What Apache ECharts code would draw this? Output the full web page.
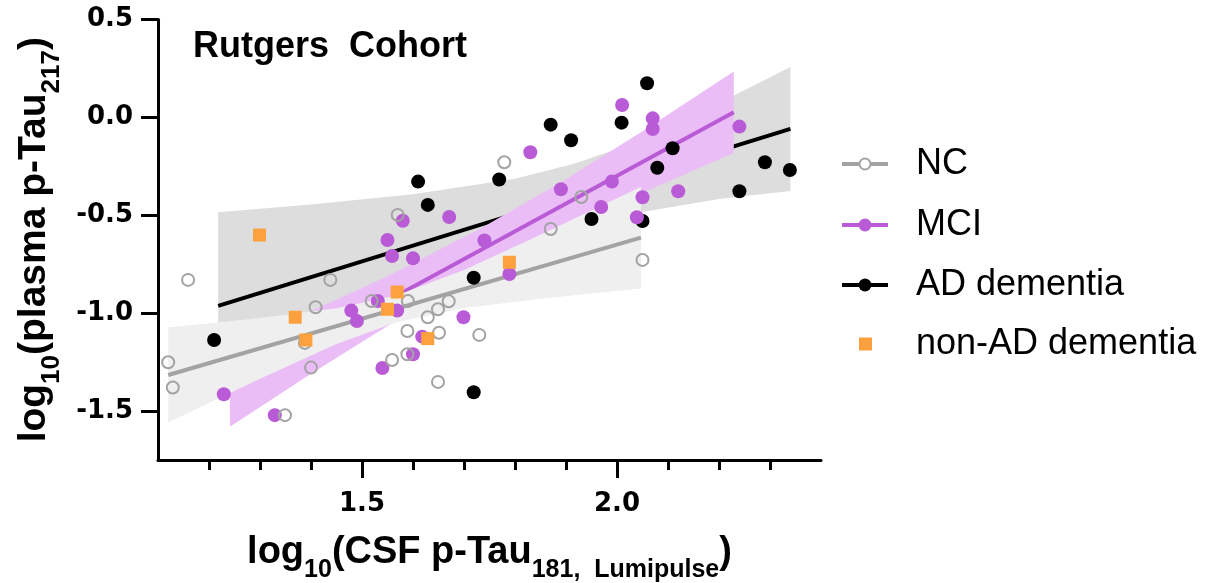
<!DOCTYPE html>
<html>
<head>
<meta charset="utf-8">
<script src="https://cdn.jsdelivr.net/npm/echarts@6/dist/echarts.min.js"></script>
<style>
  html, body { margin: 0; padding: 0; background: #fff; }
  #chart { width: 1216px; height: 583px; }
</style>
</head>
<body>
<div id="chart"></div>
<script>
// ---- Scatter data: log10(CSF p-Tau181) vs log10(plasma p-Tau217) ----
const ncX = [1.120, 1.129, 1.159, 1.349, 1.388, 1.400, 1.409, 1.438, 1.519, 1.570, 1.590, 1.589,
             1.559, 1.589, 1.629, 1.649, 1.670, 1.651, 1.649, 1.730, 1.779, 1.930, 1.870, 2.050];
const ncY = [-1.251, -1.380, -0.830, -1.521, -1.152, -1.278, -0.970, -0.830, -0.938, -0.498, -0.938, -1.091,
             -1.239, -1.210, -1.021, -0.980, -0.939, -1.100, -1.351, -1.111, -0.229, -0.407, -0.570, -0.728];

const mciX = [1.229, 1.329, 1.479, 1.490, 1.531, 1.540, 1.550, 1.559, 1.569, 1.580, 1.600, 1.600, 1.618, 1.671,
              1.699, 1.740, 1.789, 1.830, 1.890, 1.969, 1.990, 2.010, 2.039, 2.050, 2.070, 2.070, 2.120, 2.240];
const mciY = [-1.414, -1.521, -0.987, -1.040, -0.938, -1.280, -0.626, -0.708, -0.987, -0.528, -0.720, -1.210, -1.120, -0.509,
              -1.021, -0.629, -0.800, -0.178, -0.367, -0.458, -0.328, 0.063, -0.510, -0.408, -0.005, -0.059, -0.377, -0.047];

const adX = [1.210, 1.610, 1.629, 1.719, 1.719, 1.769, 1.870, 1.910, 1.950, 2.009, 2.050, 2.059, 2.079, 2.109, 2.240, 2.290, 2.339];
const adY = [-1.137, -0.328, -0.447, -0.819, -1.404, -0.317, -0.037, -0.117, -0.519, -0.027, -0.529, 0.174, -0.257, -0.158, -0.377, -0.229, -0.269];

const nonAdX = [1.299, 1.369, 1.390, 1.550, 1.569, 1.629, 1.789];
const nonAdY = [-0.601, -1.021, -1.137, -0.980, -0.892, -1.130, -0.740];

// ---- Linear fits (end points) ----
const ncFitX = [1.120, 2.047];
const ncFitY = [-1.316, -0.614];
const mciFitX = [1.241, 2.229];
const mciFitY = [-1.375, 0.026];
const adFitX = [1.218, 2.340];
const adFitY = [-0.963, -0.059];

// ---- 95% confidence bands (x, lower, upper) ----
const ncBandX  = [1.120, 1.300, 1.450, 1.567, 1.700, 1.850, 2.047];
const ncBandLo = [-1.559, -1.335, -1.157, -1.046, -0.974, -0.926, -0.874];
const ncBandHi = [-1.073, -1.025, -0.975, -0.910, -0.780, -0.600, -0.354];

const mciBandX  = [1.241, 1.400, 1.550, 1.730, 1.900, 2.050, 2.229];
const mciBandLo = [-1.580, -1.310, -1.065, -0.792, -0.566, -0.385, -0.182];
const mciBandHi = [-1.170, -0.990, -0.811, -0.572, -0.316, -0.071, 0.234];

const adBandX  = [1.218, 1.400, 1.600, 1.800, 1.917, 2.000, 2.200, 2.340];
const adBandLo = [-1.441, -1.187, -0.917, -0.675, -0.564, -0.505, -0.417, -0.376];
const adBandHi = [-0.485, -0.445, -0.393, -0.313, -0.236, -0.161, 0.073, 0.258];

// ---- Axis ticks ----
const xMajorTicks = [1.5, 2.0];
const xMinorTicks = [1.2, 1.3, 1.4, 1.6, 1.7, 1.8, 1.9, 2.1, 2.2, 2.3];
const yTicks = [-1.5, -1.0, -0.5, 0, 0.5];

const groups = ['NC', 'MCI', 'AD dementia', 'non-AD dementia'];
const colors = { nc: '#a3a3a3', mci: '#b95bd6', ad: '#000000', nonAd: '#fda03e' };

const zip = (xs, ys) => xs.map((x, i) => [x, ys[i]]);

// Confidence band drawn as one closed polygon through the axis scales
function band(name, xs, lo, hi, fill, z) {
  return {
    type: 'custom', name: name, silent: true, clip: true, z: z,
    xAxisIndex: 0, yAxisIndex: 0,
    data: xs.map((x, i) => [x, lo[i], hi[i]]),
    encode: { x: 0, y: [1, 2] },
    renderItem: function (params, api) {
      if (params.dataIndex !== 0) return null;
      const pts = [];
      for (let i = 0; i < xs.length; i++) pts.push(api.coord([xs[i], hi[i]]));
      for (let i = xs.length - 1; i >= 0; i--) pts.push(api.coord([xs[i], lo[i]]));
      return { type: 'polygon', shape: { points: pts }, style: { fill: fill } };
    }
  };
}

function fit(name, xs, ys, color, z) {
  return {
    type: 'line', name: name, silent: true, xAxisIndex: 0, yAxisIndex: 0, z: z,
    data: zip(xs, ys), showSymbol: false, symbol: 'none',
    lineStyle: { color: color, width: 4 }
  };
}

const titleFont = 'Liberation Sans, Arial, sans-serif';
const tickFont = 'DejaVu Sans, sans-serif';

const richTitle = function (size, subSize, pad) {
  return {
    b: { fontFamily: titleFont, fontWeight: 'bold', fontSize: size, color: '#000',
         verticalAlign: 'bottom', padding: [0, 0, pad, 0] },
    s: { fontFamily: titleFont, fontWeight: 'bold', fontSize: subSize, color: '#000',
         verticalAlign: 'bottom' }
  };
};

const legendRows = [164, 225, 285, 344];
const legendGraphics = [];
groups.forEach(function (g, i) {
  const y = legendRows[i];
  const c = [colors.nc, colors.mci, colors.ad, colors.nonAd][i];
  if (i < 3) {
    legendGraphics.push({ type: 'line', shape: { x1: 842, y1: y, x2: 888, y2: y },
      style: { stroke: c, lineWidth: 4 } });
    legendGraphics.push({ type: 'circle', shape: { cx: 865, cy: y, r: i === 0 ? 5.5 : 6.5 },
      style: i === 0 ? { fill: '#fff', stroke: c, lineWidth: 2 } : { fill: c } });
  } else {
    legendGraphics.push({ type: 'rect', shape: { x: 859, y: y - 6.5, width: 13, height: 13 },
      style: { fill: c } });
  }
  legendGraphics.push({ type: 'text', x: 916, y: y,
    style: { text: g, fontFamily: titleFont, fontSize: 36, fill: '#000', verticalAlign: 'middle' } });
});

const chart = echarts.init(document.getElementById('chart'), null, { renderer: 'canvas' });
chart.setOption({
  animation: false,
  backgroundColor: '#fff',
  grid: { left: 158, right: 395, top: 19.5, bottom: 123, containLabel: false, outerBoundsMode: 'none' },
  graphic: [
    { type: 'text', x: 193, y: 47,
      style: { text: 'Rutgers  Cohort', fontFamily: titleFont, fontWeight: 'bold', fontSize: 36,
               fill: '#000', verticalAlign: 'middle' } }
  ].concat(legendGraphics),
  xAxis: [
    {
      type: 'value', min: 1.1, max: 2.4, position: 'bottom',
      name: '{b|log}{s|10}{b|(CSF p-Tau}{s|181,  Lumipulse}{b|)}',
      nameLocation: 'middle', nameGap: 74,
      nameTextStyle: { rich: richTitle(38, 25, 11) },
      axisLine: { show: true, onZero: false, lineStyle: { color: '#000', width: 3 } },
      axisTick: { show: true, customValues: xMajorTicks, length: 18, lineStyle: { color: '#000', width: 3 } },
      axisLabel: { show: true, customValues: xMajorTicks, margin: 31,
                   fontFamily: tickFont, fontWeight: 'bold', fontSize: 26, color: '#000', lineHeight: 26,
                   formatter: v => v.toFixed(1) },
      splitLine: { show: false }
    },
    {
      type: 'value', min: 1.1, max: 2.4, position: 'bottom',
      axisLine: { show: false, onZero: false },
      axisTick: { show: true, customValues: xMinorTicks, length: 10, lineStyle: { color: '#000', width: 3 } },
      axisLabel: { show: false },
      splitLine: { show: false }
    }
  ],
  yAxis: {
    type: 'value', min: -1.75, max: 0.5,
    name: '{b|log}{s|10}{b|(plasma p-Tau}{s|217}{b|)}',
    nameLocation: 'middle', nameGap: 93, nameRotate: 90,
    nameTextStyle: { rich: richTitle(39, 26, 11) },
    axisLine: { show: true, onZero: false, lineStyle: { color: '#000', width: 3 } },
    axisTick: { show: true, customValues: yTicks, length: 17, lineStyle: { color: '#000', width: 3 } },
    axisLabel: { show: true, customValues: yTicks, margin: 25,
                 fontFamily: tickFont, fontWeight: 'bold', fontSize: 26, color: '#000',
                 formatter: v => v.toFixed(1) },
    splitLine: { show: false }
  },
  series: [
    band('AD band', adBandX, adBandLo, adBandHi, '#dddddd', 1),
    fit('AD fit', adFitX, adFitY, colors.ad, 2),
    band('MCI band', mciBandX, mciBandLo, mciBandHi, '#eabdf6', 3),
    fit('MCI fit', mciFitX, mciFitY, colors.mci, 4),
    band('NC band', ncBandX, ncBandLo, ncBandHi, '#efefef', 5),
    fit('NC fit', ncFitX, ncFitY, colors.nc, 6),
    { type: 'scatter', name: 'AD dementia', z: 7, data: zip(adX, adY), symbol: 'circle', symbolSize: 14,
      itemStyle: { color: colors.ad, opacity: 1 } },
    { type: 'scatter', name: 'MCI', z: 8, data: zip(mciX, mciY), symbol: 'circle', symbolSize: 14,
      itemStyle: { color: colors.mci, opacity: 1 } },
    { type: 'scatter', name: 'NC', z: 9, data: zip(ncX, ncY), symbol: 'circle', symbolSize: 12,
      itemStyle: { color: 'rgba(255,255,255,0)', borderColor: colors.nc, borderWidth: 2, opacity: 1 } },
    { type: 'scatter', name: 'non-AD dementia', z: 10, data: zip(nonAdX, nonAdY), symbol: 'rect', symbolSize: 13,
      itemStyle: { color: colors.nonAd, opacity: 1 } }
  ]
});
</script>
</body>
</html>
